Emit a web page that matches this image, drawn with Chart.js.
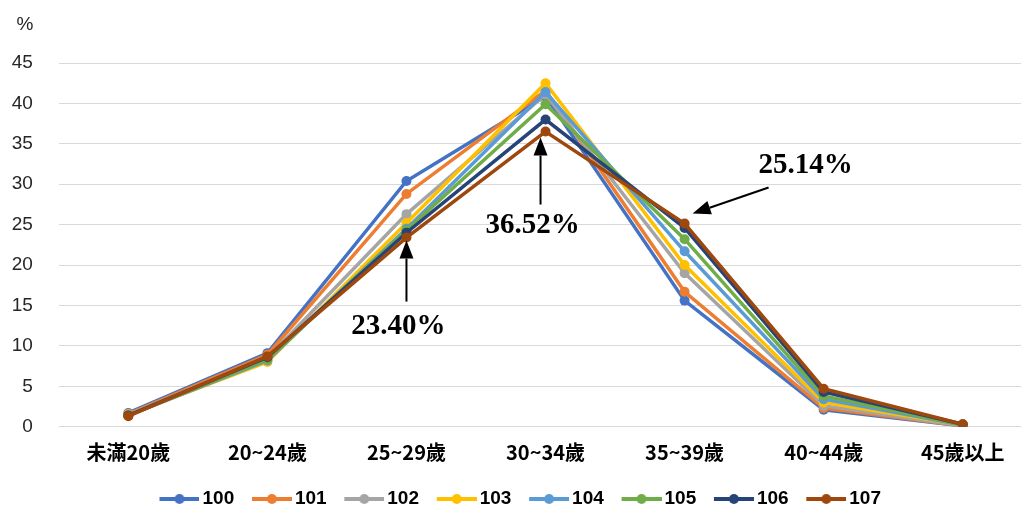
<!DOCTYPE html>
<html>
<head>
<meta charset="utf-8">
<script src="https://cdn.jsdelivr.net/npm/chart.js@4/dist/chart.umd.min.js"></script>
<style>
    html, body { margin: 0; padding: 0; background: #fff; overflow: hidden; }
    /* 比視窗寬 5px, 讓繪圖區延伸到右邊緣 */
    #chart-container { width: 1026px; height: 509px; position: relative; }
</style>
</head>
<body>
<div id="chart-container"><canvas id="line-chart"></canvas></div>
<script>
// 資料
const categories = ['未滿20歲', '20~24歲', '25~29歲', '30~34歲', '35~39歲', '40~44歲', '45歲以上']; // X軸類別
const years = ['100', '101', '102', '103', '104', '105', '106', '107']; // 年度
const y100 = [1.7, 9.1, 30.4, 40.9, 15.6, 2.1, 0.1];
const y101 = [1.6, 8.9, 28.8, 41.6, 16.7, 2.3, 0.1];
const y102 = [1.5, 8.5, 26.3, 41.1, 19.0, 2.6, 0.1];
const y103 = [1.5, 8.0, 25.2, 42.5, 20.0, 3.0, 0.2];
const y104 = [1.4, 8.2, 24.5, 41.4, 21.7, 3.4, 0.2];
const y105 = [1.4, 8.3, 24.3, 39.9, 23.2, 3.8, 0.2];
const y106 = [1.4, 8.6, 24.0, 38.0, 24.6, 4.3, 0.3];
const y107 = [1.3, 8.7, 23.40, 36.52, 25.14, 4.7, 0.3];
const seriesValues = [y100, y101, y102, y103, y104, y105, y106, y107];
const yTickValues = [0, 5, 10, 15, 20, 25, 30, 35, 40, 45]; // Y軸刻度

// 顏色 (Office 配色)
const colors = ['#4472C4', '#ED7D31', '#A5A5A5', '#FFC000', '#5B9BD5', '#70AD47', '#264478', '#9E480E'];

// 標註: 系列索引, 類別索引, 文字, 箭頭尖端/尾端/文字相對於資料點的位移
const notes = [
    { series: 7, cat: 2, text: '23.40%', tip: [0, 3], tail: [0, 64], label: [-8, 89] },
    { series: 7, cat: 3, text: '36.52%', tip: [-5, 6], tail: [-5, 73], label: [-13, 94] },
    { series: 7, cat: 4, text: '25.14%', tip: [8, -10], tail: [84, -36], label: [121, -58] }
];

// 圖例用的小圖 (線 + 圓點), 左邊留空讓線貼近文字
function legendMark(color) {
    const c = document.createElement('canvas');
    c.width = 61; c.height = 12;
    const g = c.getContext('2d');
    g.strokeStyle = color; g.lineWidth = 4;
    g.beginPath(); g.moveTo(21, 6); g.lineTo(61, 6); g.stroke();
    g.fillStyle = color;
    g.beginPath(); g.arc(41, 6, 5, 0, Math.PI * 2); g.fill();
    return c;
}

// 箭頭
function drawArrow(ctx, x1, y1, x2, y2) {
    const ang = Math.atan2(y2 - y1, x2 - x1);
    const headLen = 18, headW = 7;
    const bx = x2 - headLen * Math.cos(ang), by = y2 - headLen * Math.sin(ang);
    ctx.strokeStyle = '#000'; ctx.fillStyle = '#000'; ctx.lineWidth = 2;
    ctx.beginPath(); ctx.moveTo(x1, y1); ctx.lineTo(bx, by); ctx.stroke();
    ctx.beginPath();
    ctx.moveTo(x2, y2);
    ctx.lineTo(bx + headW * Math.sin(ang), by - headW * Math.cos(ang));
    ctx.lineTo(bx - headW * Math.sin(ang), by + headW * Math.cos(ang));
    ctx.closePath(); ctx.fill();
}

const notePlugin = {
    id: 'notes',
    afterDraw(chart) {
        const ctx = chart.ctx;
        const xs = chart.scales.x, ys = chart.scales.y;
        ctx.save();
        // 單位 %
        ctx.fillStyle = '#262626';
        ctx.font = '19px "Liberation Sans", Arial, sans-serif';
        ctx.textAlign = 'center'; ctx.textBaseline = 'middle';
        ctx.fillText('%', 25, 25);
        // 箭頭與數值
        notes.forEach(n => {
            const px = xs.getPixelForValue(n.cat);
            const py = ys.getPixelForValue(seriesValues[n.series][n.cat]);
            drawArrow(ctx, px + n.tail[0], py + n.tail[1], px + n.tip[0], py + n.tip[1]);
            ctx.fillStyle = '#000';
            ctx.font = 'bold 29px "Liberation Serif", "Times New Roman", serif';
            ctx.fillText(n.text, px + n.label[0], py + n.label[1]);
        });
        ctx.restore();
    }
};

const ctx = document.getElementById('line-chart').getContext('2d');
const chart = new Chart(ctx, {
    type: 'line',
    data: {
        datasets: years.map((yr, i) => ({
            label: yr,
            data: categories.map((c, j) => ({ x: j, y: seriesValues[i][j] })),
            borderColor: colors[i],
            backgroundColor: colors[i],
            borderWidth: 3.5,
            pointRadius: 5,
            pointBorderWidth: 0,
            pointHoverRadius: 5,
            fill: false,
            tension: 0,
            order: years.length - i // 後面的年度畫在上層
        }))
    },
    options: {
        responsive: true,
        maintainAspectRatio: false,
        animation: false,
        devicePixelRatio: 1,
        layout: { padding: { top: 63, left: 0, right: 0, bottom: -9.5 } },
        plugins: {
            tooltip: { enabled: false },
            legend: {
                position: 'bottom',
                labels: {
                    usePointStyle: true,
                    pointStyleWidth: 48,
                    padding: 3.2,
                    color: '#000',
                    font: { family: '"Liberation Sans", Arial, sans-serif', size: 19, weight: 'bold' },
                    generateLabels: (chart) => years.map((yr, i) => ({
                        text: yr,
                        fillStyle: colors[i],
                        strokeStyle: colors[i],
                        lineWidth: 0,
                        pointStyle: legendMark(colors[i]),
                        datasetIndex: i,
                        hidden: false,
                        fontColor: '#000'
                    }))
                }
            }
        },
        scales: {
            x: {
                type: 'linear',
                min: -0.5,
                max: 6.419,
                afterBuildTicks: (axis) => { axis.ticks = categories.map((c, j) => ({ value: j })); },
                afterFit: (axis) => { axis.height = 59.6; },
                grid: { display: true, drawOnChartArea: false, drawTicks: true, tickLength: 14, color: 'rgba(0,0,0,0)' },
                border: { display: false },
                ticks: {
                    autoSkip: false,
                    maxRotation: 0,
                    padding: 0,
                    color: '#000',
                    font: { family: '"Noto Sans CJK TC", sans-serif', size: 20, weight: 'bold' },
                    callback: (v) => categories[v] ?? ''
                }
            },
            y: {
                min: 0,
                max: 45,
                afterBuildTicks: (axis) => { axis.ticks = yTickValues.map(v => ({ value: v })); },
                afterFit: (axis) => { axis.width = 58.8; },
                grid: { color: '#d9d9d9', lineWidth: 1, drawTicks: false },
                border: { display: false },
                ticks: {
                    padding: 26,
                    color: '#262626',
                    font: { family: '"Liberation Sans", Arial, sans-serif', size: 19 }
                }
            }
        }
    },
    plugins: [notePlugin]
});
</script>
</body>
</html>
